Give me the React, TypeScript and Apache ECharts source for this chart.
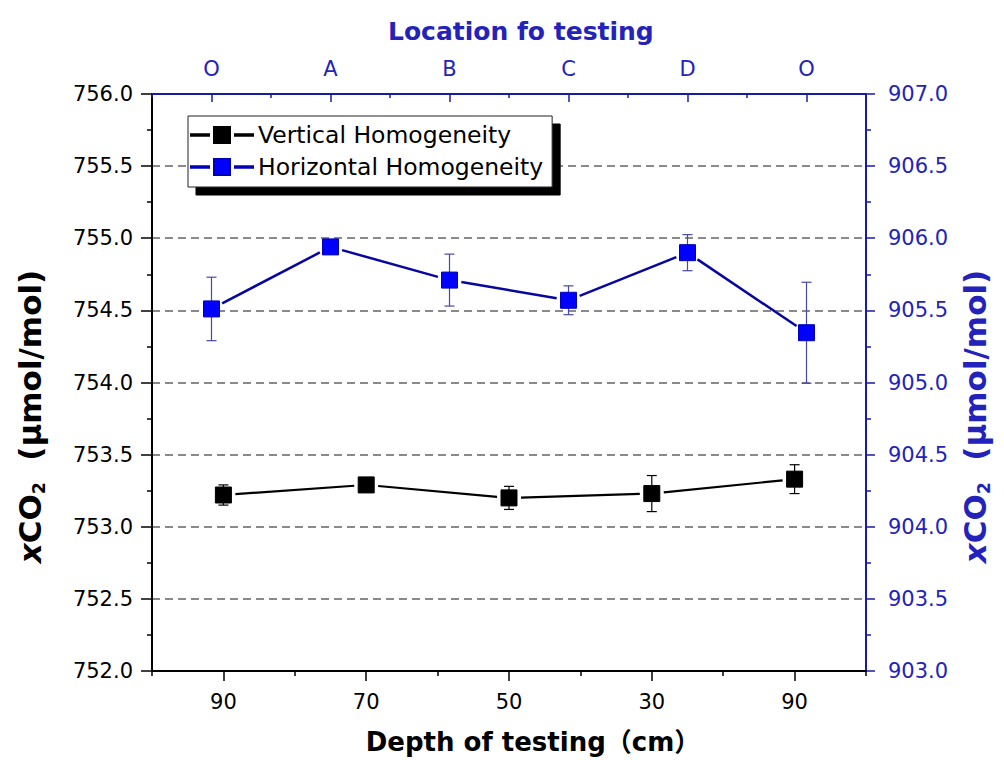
import React, { useEffect, useRef } from "react";
import * as echarts from "echarts";

// Depth categories along the bottom axis and test locations along the top axis
const depthLabels = ["90", "70", "50", "30", "90"];
const locationLabels = ["O", "A", "B", "C", "D", "O"];

// Vertical homogeneity (left axis), mean and ± error
const verticalMean = [753.22, 753.29, 753.2, 753.23, 753.33];
const verticalErr = [0.07, 0.05, 0.08, 0.125, 0.1];

// Horizontal homogeneity (right axis), mean and ± error
const horizontalMean = [905.51, 905.94, 905.71, 905.57, 905.9, 905.345];
const horizontalErr = [0.22, 0.02, 0.18, 0.1, 0.125, 0.35];

// Axis ranges
const leftRange = [752, 756];
const rightRange = [903, 907];
const valueStep = 0.5;

const FONT = '"DejaVu Sans", "Noto Sans CJK SC", sans-serif';
const BLUE_AXIS = "#1a1aa8";
const BLUE_TEXT = "#2323bb";
const BLUE_MARK = "#0000ff";
const BLUE_LINE = "#0707a0";
const BLUE_ERR = "#4747aa";

const legendIcon =
  "path://M0,7.2h18v1.6h-18z M23,0h16v16h-16z M44,7.2h18v1.6h-18z";

// Connecting line that stops short of each square marker
function gapLine(values: number[], color: string, width: number, gap: number) {
  return (params: any, api: any) => {
    const i = params.dataIndex;
    if (i === 0) return null;
    const a = api.coord([i - 1, values[i - 1]]);
    const b = api.coord([api.value(0), api.value(1)]);
    const dx = b[0] - a[0];
    const dy = b[1] - a[1];
    const len = Math.hypot(dx, dy) || 1;
    const ux = dx / len;
    const uy = dy / len;
    return {
      type: "line",
      shape: {
        x1: a[0] + ux * gap,
        y1: a[1] + uy * gap,
        x2: b[0] - ux * gap,
        y2: b[1] - uy * gap,
      },
      style: { stroke: color, lineWidth: width, fill: null },
    };
  };
}

// Vertical whisker with caps from (mean - err) to (mean + err)
function errorBar(color: string, width: number, cap: number) {
  return (params: any, api: any) => {
    const x = api.value(0);
    const lo = api.coord([x, api.value(2)]);
    const hi = api.coord([x, api.value(3)]);
    const st = { stroke: color, lineWidth: width, fill: null };
    return {
      type: "group",
      children: [
        { type: "line", shape: { x1: hi[0], y1: hi[1], x2: lo[0], y2: lo[1] }, style: st },
        { type: "line", shape: { x1: hi[0] - cap, y1: hi[1], x2: hi[0] + cap, y2: hi[1] }, style: st },
        { type: "line", shape: { x1: lo[0] - cap, y1: lo[1], x2: lo[0] + cap, y2: lo[1] }, style: st },
      ],
    };
  };
}

function nameRich(color: string) {
  return {
    color,
    fontFamily: FONT,
    rich: {
      i: { fontStyle: "italic", fontWeight: "bold", fontSize: 31, color, fontFamily: FONT, lineHeight: 35 },
      b: { fontWeight: "bold", fontSize: 31, color, fontFamily: FONT, lineHeight: 35 },
      s: { fontWeight: "bold", fontSize: 17, color, fontFamily: FONT, lineHeight: 24, verticalAlign: "bottom" },
    },
  };
}

export default function App() {
  const ref = useRef<HTMLDivElement>(null);

  useEffect(() => {
    if (!ref.current) return;
    const chart = echarts.init(ref.current, null, { renderer: "svg" });

    const vData = verticalMean.map((v, i) => [i, v]);
    const hData = horizontalMean.map((v, i) => [i, v]);
    const vErr = verticalMean.map((v, i) => [i, v, v - verticalErr[i], v + verticalErr[i]]);
    const hErr = horizontalMean.map((v, i) => [i, v, v - horizontalErr[i], v + horizontalErr[i]]);

    const yName = "{i|x}{b|CO}{s|2}{b|  (μmol/mol)}";

    chart.setOption({
      animation: false,
      backgroundColor: "#ffffff",
      title: {
        text: "Location fo testing",
        left: 383,
        top: 14,
        textStyle: { color: BLUE_TEXT, fontSize: 25, fontWeight: "bold", fontFamily: FONT },
      },
      legend: {
        orient: "vertical",
        left: 188,
        top: 116,
        itemWidth: 62,
        itemHeight: 16,
        itemGap: 4,
        padding: [5, 9, 6, 2],
        backgroundColor: "#ffffff",
        borderColor: "#222222",
        borderWidth: 1,
        shadowColor: "#000000",
        shadowBlur: 0,
        shadowOffsetX: 8,
        shadowOffsetY: 8,
        selectedMode: false,
        textStyle: { fontSize: 23.5, fontFamily: FONT, color: "#000", lineHeight: 28 },
        data: [
          { name: "Vertical Homogeneity", icon: legendIcon },
          { name: "Horizontal Homogeneity", icon: legendIcon },
        ],
      },
      grid: { left: 152, right: 138, top: 94, bottom: 88, containLabel: false },
      xAxis: [
        {
          type: "category",
          position: "bottom",
          data: depthLabels,
          boundaryGap: true,
          name: "Depth of testing（cm）",
          nameLocation: "middle",
          nameGap: 58,
          nameTextStyle: { fontSize: 26, fontWeight: "bold", color: "#000", fontFamily: FONT, padding: [0, 0, 0, 48] },
          axisLine: { show: true, lineStyle: { color: "#000", width: 2 } },
          axisTick: { show: true, alignWithLabel: true, interval: 0, length: 10, lineStyle: { color: "#000", width: 1.5 } },
          axisLabel: { interval: 0, margin: 20, fontSize: 21, color: "#000", fontFamily: FONT },
          splitLine: { show: false },
        },
        {
          type: "category",
          position: "bottom",
          data: depthLabels,
          boundaryGap: true,
          axisLine: { show: false },
          axisTick: { show: true, interval: 0, length: 5, lineStyle: { color: "#000", width: 1.5 } },
          axisLabel: { show: false },
          splitLine: { show: false },
        },
        {
          type: "category",
          position: "top",
          data: locationLabels,
          boundaryGap: true,
          axisLine: { show: true, lineStyle: { color: BLUE_AXIS, width: 2 } },
          axisTick: { show: true, inside: true, alignWithLabel: true, interval: 0, length: 8, lineStyle: { color: BLUE_AXIS, width: 1.5 } },
          axisLabel: { interval: 0, margin: 15, fontSize: 21, color: BLUE_TEXT, fontFamily: FONT },
          splitLine: { show: false },
        },
        {
          type: "category",
          position: "top",
          data: locationLabels,
          boundaryGap: true,
          axisLine: { show: false },
          axisTick: { show: true, inside: true, interval: 0, length: 4, lineStyle: { color: BLUE_AXIS, width: 1.5 } },
          axisLabel: { show: false },
          splitLine: { show: false },
        },
      ],
      yAxis: [
        {
          type: "value",
          position: "left",
          min: leftRange[0],
          max: leftRange[1],
          interval: valueStep,
          name: yName,
          nameLocation: "middle",
          nameRotate: 90,
          nameGap: 105,
          nameTextStyle: { ...nameRich("#000"), padding: [0, 68, 0, 0] },
          axisLine: { show: true, lineStyle: { color: "#000", width: 2 } },
          axisTick: { show: true, length: 11, lineStyle: { color: "#000", width: 1.5 } },
          minorTick: { show: true, splitNumber: 2, length: 5, lineStyle: { color: "#000", width: 1.5 } },
          axisLabel: { margin: 19, fontSize: 21, color: "#000", fontFamily: FONT, formatter: (v: number) => v.toFixed(1) },
          splitLine: {
            show: true,
            showMinLine: false,
            showMaxLine: false,
            lineStyle: { color: "#8a8a8a", width: 2, type: [8, 5] },
          },
        },
        {
          type: "value",
          position: "right",
          min: rightRange[0],
          max: rightRange[1],
          interval: valueStep,
          name: yName,
          nameLocation: "middle",
          nameRotate: 90,
          nameGap: 89,
          nameTextStyle: { ...nameRich(BLUE_TEXT), padding: [0, 68, 0, 0] },
          axisLine: { show: true, lineStyle: { color: BLUE_AXIS, width: 2 } },
          axisTick: { show: true, length: 9, lineStyle: { color: BLUE_AXIS, width: 1.5 } },
          minorTick: { show: true, splitNumber: 2, length: 5, lineStyle: { color: BLUE_AXIS, width: 1.5 } },
          axisLabel: { margin: 22, fontSize: 21, color: BLUE_TEXT, fontFamily: FONT, formatter: (v: number) => v.toFixed(1) },
          splitLine: { show: false },
        },
      ],
      series: [
        {
          type: "custom",
          id: "vLine",
          xAxisIndex: 0,
          yAxisIndex: 0,
          z: 2,
          renderItem: gapLine(verticalMean, "#000", 2.2, 12),
          encode: { x: 0, y: 1 },
          data: vData,
          silent: true,
        },
        {
          type: "custom",
          id: "hLine",
          xAxisIndex: 2,
          yAxisIndex: 1,
          z: 2,
          renderItem: gapLine(horizontalMean, BLUE_LINE, 2.5, 12),
          encode: { x: 0, y: 1 },
          data: hData,
          silent: true,
        },
        {
          type: "custom",
          id: "vErr",
          xAxisIndex: 0,
          yAxisIndex: 0,
          z: 2,
          renderItem: errorBar("#000", 1.2, 5),
          encode: { x: 0, y: [1, 2, 3] },
          data: vErr,
          silent: true,
        },
        {
          type: "custom",
          id: "hErr",
          xAxisIndex: 2,
          yAxisIndex: 1,
          z: 2,
          renderItem: errorBar(BLUE_ERR, 1.2, 5),
          encode: { x: 0, y: [1, 2, 3] },
          data: hErr,
          silent: true,
        },
        {
          type: "scatter",
          name: "Vertical Homogeneity",
          xAxisIndex: 0,
          yAxisIndex: 0,
          z: 3,
          symbol: "rect",
          symbolSize: 16,
          itemStyle: { color: "#000", borderColor: "#000", borderWidth: 1, opacity: 1 },
          data: vData,
        },
        {
          type: "scatter",
          name: "Horizontal Homogeneity",
          xAxisIndex: 2,
          yAxisIndex: 1,
          z: 3,
          symbol: "rect",
          symbolSize: 16,
          itemStyle: { color: BLUE_MARK, borderColor: "#0000b8", borderWidth: 1, opacity: 1 },
          data: hData,
        },
      ],
    });

    return () => chart.dispose();
  }, []);

  return (
    <div
      ref={ref}
      style={{ position: "absolute", left: 0, top: 0, width: 1004, height: 760, background: "#fff" }}
    />
  );
}
